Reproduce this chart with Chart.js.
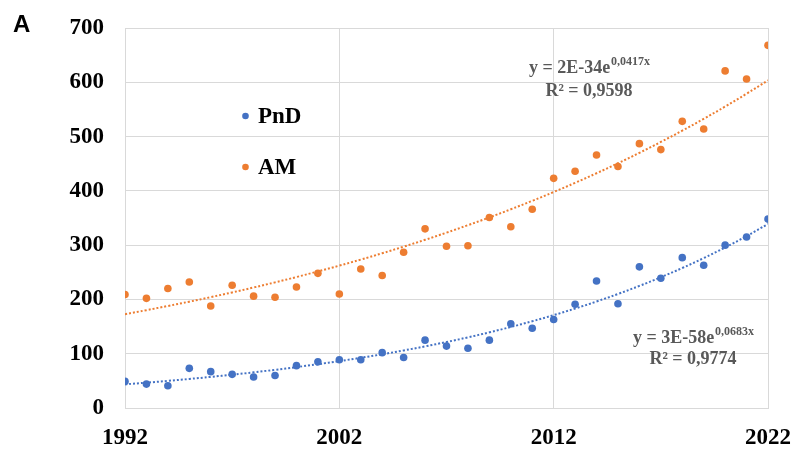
<!DOCTYPE html>
<html>
<head>
<meta charset="utf-8">
<script src="https://cdn.jsdelivr.net/npm/chart.js@4/dist/chart.umd.min.js"></script>
<style>
html,body{margin:0;padding:0;background:#fff;}
#wrap{position:relative;width:794px;height:450px;}
</style>
</head>
<body>
<div id="wrap"><canvas id="c" width="794" height="450"></canvas></div>
<script>
const years = [1992,1993,1994,1995,1996,1997,1998,1999,2000,2001,2002,2003,2004,2005,2006,2007,2008,2009,2010,2011,2012,2013,2014,2015,2016,2017,2018,2019,2020,2021,2022];
const pndValues = [49,44,41,73,67,62,57,60,78,85,89,89,102,93,125,114,110,125,155,147,163,191,234,192,260,239,277,263,300,315,348];
const amValues = [209,202,220,232,188,226,206,204,223,248,210,256,244,287,330,298,299,351,334,366,423,436,466,445,487,476,528,514,621,606,668];
const seriesNames = ['PnD','AM'];
const yTicks = [0,100,200,300,400,500,600,700];
const xTicks = [1992,2002,2012,2022];
const pndEquation = ['y = 3E-58e','0,0683x','R² = 0,9774'];
const amEquation = ['y = 2E-34e','0,0417x','R² = 0,9598'];

const BLUE = '#4472C4', ORANGE = '#ED7D31';

// Exponential least-squares fit (Excel-style trendline: ln y vs x)
function expFit(xs, ys){
  const n = xs.length, x0 = xs[0];
  let sx=0, sy=0, sxx=0, sxy=0;
  for(let i=0;i<n;i++){const x=xs[i]-x0, l=Math.log(ys[i]); sx+=x; sy+=l; sxx+=x*x; sxy+=x*l;}
  const b=(n*sxy-sx*sy)/(n*sxx-sx*sx), a=(sy-b*sx)/n;
  return xs.map(x=>({x:x, y:Math.exp(a+b*(x-x0))}));
}
const pts = (vals)=>years.map((y,i)=>({x:y,y:vals[i]}));

const overlay = {
  id:'overlay',
  afterDraw(chart){
    const ctx = chart.ctx;
    ctx.save();
    ctx.fillStyle='#000';
    ctx.font='bold 24px "Liberation Sans", Arial, sans-serif';
    ctx.textBaseline='alphabetic'; ctx.textAlign='left';
    ctx.fillText('A', 13, 32);
    const leg = [[seriesNames[0], BLUE, 116],[seriesNames[1], ORANGE, 167]];
    leg.forEach(([t,c,yy])=>{
      ctx.fillStyle=c; ctx.beginPath(); ctx.arc(245.5,yy,3.3,0,Math.PI*2); ctx.fill();
      ctx.fillStyle='#000'; ctx.font='bold 23px "Liberation Serif", "Times New Roman", serif';
      ctx.textBaseline='middle'; ctx.fillText(t, 258, yy+1);
    });
    function eq(lines, cx, y1, y2){
      ctx.fillStyle='#595959';
      ctx.textBaseline='alphabetic';
      const big='bold 18px "Liberation Serif", "Times New Roman", serif';
      const sup='bold 12px "Liberation Serif", "Times New Roman", serif';
      ctx.font=big; const w1=ctx.measureText(lines[0]).width;
      ctx.font=sup; const w2=ctx.measureText(lines[1]).width;
      let x = cx-(w1+w2)/2;
      ctx.textAlign='left';
      ctx.font=big; ctx.fillText(lines[0], x, y1);
      ctx.font=sup; ctx.fillText(lines[1], x+w1+1, y1-8);
      ctx.font=big; ctx.textAlign='center'; ctx.fillText(lines[2], cx, y2);
    }
    eq(amEquation, 589, 73, 96);
    eq(pndEquation, 693, 343, 364);
    ctx.restore();
  }
};

new Chart(document.getElementById('c'), {
  type:'scatter',
  data:{datasets:[
    {label:seriesNames[0]+' trend', type:'line', data:expFit(years,pndValues), borderColor:BLUE, borderWidth:2, borderDash:[2,2], pointRadius:0, fill:false, tension:0.4, order:3},
    {label:seriesNames[1]+' trend', type:'line', data:expFit(years,amValues), borderColor:ORANGE, borderWidth:2, borderDash:[2,2], pointRadius:0, fill:false, tension:0.4, order:3},
    {label:seriesNames[0], data:pts(pndValues), backgroundColor:BLUE, borderColor:BLUE, pointRadius:3.8, borderWidth:0, order:1},
    {label:seriesNames[1], data:pts(amValues), backgroundColor:ORANGE, borderColor:ORANGE, pointRadius:3.8, borderWidth:0, order:1}
  ]},
  options:{
    responsive:false, animation:false,
    layout:{padding:{top:28,right:26,left:0,bottom:0}},
    plugins:{legend:{display:false}, tooltip:{enabled:false}},
    scales:{
      x:{type:'linear', min:xTicks[0], max:xTicks[xTicks.length-1],
        afterBuildTicks:(s)=>{s.ticks=xTicks.map(v=>({value:v}));},
        afterFit:(s)=>{s.height=42; s.paddingLeft=0; s.paddingRight=0;},
        grid:{color:'#d9d9d9', drawTicks:false, lineWidth:1},
        border:{color:'#d9d9d9'},
        ticks:{color:'#000', padding:16, maxRotation:0, autoSkip:false,
          font:{family:'"Liberation Serif", "Times New Roman", serif', size:23, weight:'bold'},
          callback:(v)=>String(v)}
      },
      y:{min:yTicks[0], max:yTicks[yTicks.length-1],
        afterBuildTicks:(s)=>{s.ticks=yTicks.map(v=>({value:v}));},
        afterFit:(s)=>{s.width=125; s.paddingTop=0; s.paddingBottom=0;},
        grid:{color:'#d9d9d9', drawTicks:false, lineWidth:1},
        border:{color:'#d9d9d9'},
        ticks:{color:'#000', padding:21,
          font:{family:'"Liberation Serif", "Times New Roman", serif', size:23, weight:'bold'}}
      }
    }
  },
  plugins:[overlay]
});
</script>
</body>
</html>
